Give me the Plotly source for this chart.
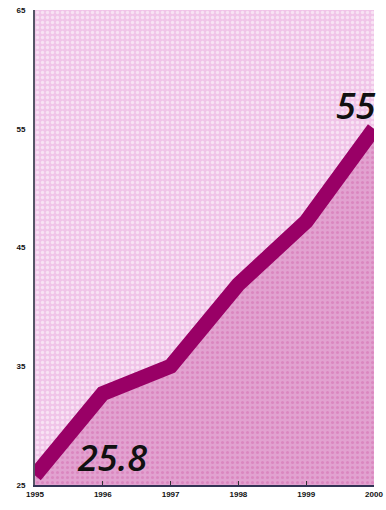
import plotly.graph_objects as go

years = [1995, 1996, 1997, 1998, 1999, 2000]
values = [25.8, 32.7, 35.0, 41.9, 47.2, 55.0]
year_labels = ["1995", "1996", "1997", "1998", "1999", "2000"]
y_ticks = [25, 35, 45, 55, 65]
y_labels = ["25", "35", "45", "55", "65"]

fig = go.Figure()

# upper light-pink dotted background
fig.add_trace(go.Scatter(
    x=[years[0], years[-1]], y=[65, 65], mode="lines",
    line=dict(width=0), fill="tozeroy", fillcolor="#f6d4ef",
    fillpattern=dict(shape=".", fgcolor="#ffffff", bgcolor="#f0c4e8", size=5, solidity=0.35),
    hoverinfo="skip", showlegend=False))

# lower area under the line
fig.add_trace(go.Scatter(
    x=years, y=values, mode="lines",
    line=dict(width=0), fill="tozeroy",
    fillpattern=dict(shape=".", fgcolor="#d46cb0", bgcolor="#e2a2d0", size=5, solidity=0.3),
    hoverinfo="skip", showlegend=False))

# thick line
fig.add_trace(go.Scatter(
    x=years, y=values, mode="lines",
    line=dict(color="#990066", width=15, shape="linear"),
    showlegend=False))

fig.add_annotation(x=years[0], y=values[0], text="<i>25.8</i>", showarrow=False,
                   xanchor="left", yanchor="bottom", xshift=40, yshift=-8,
                   font=dict(family="Open Sans", size=36, color="#111111", weight=600))
fig.add_annotation(x=years[-1], y=values[-1], text="<i>55</i>", showarrow=False,
                   xanchor="right", yanchor="bottom", xshift=4, yshift=-3,
                   font=dict(family="Open Sans", size=36, color="#111111", weight=600))

fig.update_layout(
    width=386, height=510,
    margin=dict(l=35, r=3, t=10, b=25),
    paper_bgcolor="white", plot_bgcolor="#f6d4ef",
    xaxis=dict(range=[years[0], years[-1]], tickvals=years, ticktext=year_labels,
               showgrid=False, zeroline=False, showline=True, linecolor="#333355",
               linewidth=2, ticks="inside", ticklen=4, tickcolor="#333",
               ticklabeloverflow="allow",
               tickfont=dict(family="Liberation Sans Narrow, Arial Narrow, Arial", size=8,
                             color="#111", weight="bold")),
    yaxis=dict(range=[25, 65], tickvals=y_ticks, ticktext=y_labels,
               showgrid=False, zeroline=False, showline=True, linecolor="#555566",
               linewidth=2, ticks="", ticklabelstandoff=6,
               tickfont=dict(family="Liberation Sans Narrow, Arial Narrow, Arial", size=8,
                             color="#111", weight="bold")),
)

fig.write_html("out.html")
